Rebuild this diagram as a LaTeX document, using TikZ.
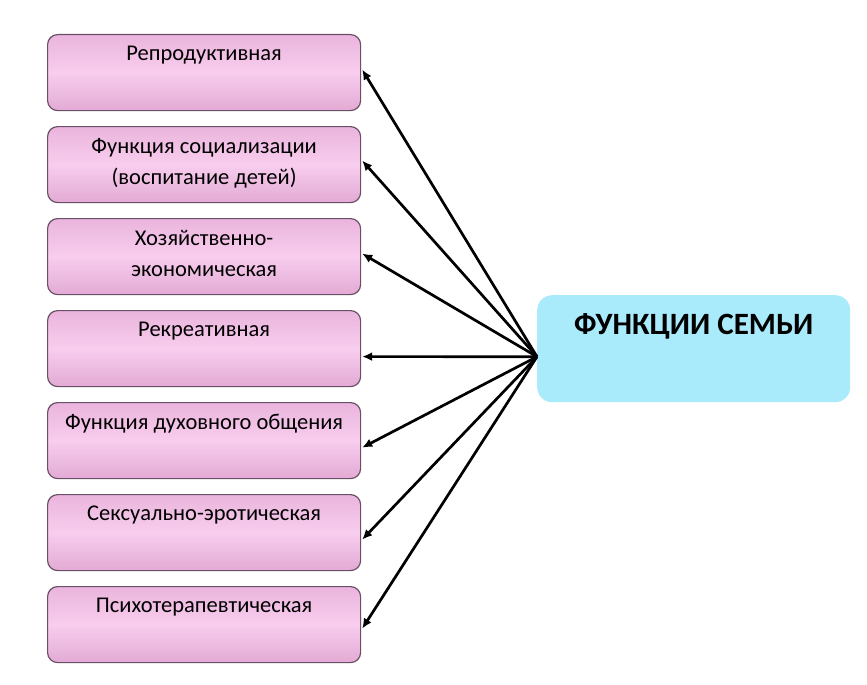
\documentclass[tikz,border=0pt]{standalone}
\usepackage{fontspec}
\setmainfont{Carlito}
\usetikzlibrary{arrows.meta,calc}
\definecolor{pinkTop}{HTML}{EAB4DC}
\definecolor{pinkMid}{HTML}{F8CDEE}
\definecolor{pinkBot}{HTML}{E2AAD4}
\definecolor{boxBorder}{HTML}{6A5066}
\definecolor{famFill}{HTML}{AAEBFB}
\tikzset{
  funcbox/.style={draw=boxBorder, line width=1.2pt, rounded corners=10pt,
    top color=pinkTop, bottom color=pinkBot, middle color=pinkMid,
    minimum width=313pt, minimum height=76pt, inner sep=0pt, anchor=north west},
  functext/.style={anchor=north, align=center, inner sep=0pt, text=black,
    font=\fontsize{22.5}{31}\selectfont},
  famstyle/.style={fill=famFill, rounded corners=15pt, minimum width=313pt,
    minimum height=107pt, inner sep=0pt, anchor=north west},
  famtext/.style={anchor=center, inner sep=0pt, font=\fontsize{31}{34}\selectfont\bfseries},
  conn/.style={line width=2.7pt, -{Latex[length=10pt,width=9pt]}}
}
\begin{document}
\begin{tikzpicture}[x=1pt,y=-1pt]
\useasboundingbox (0,0) rectangle (867,685);
\node[funcbox] (b1) at (47,34) {};
\node[funcbox] (b2) at (47,126) {};
\node[funcbox] (b3) at (47,218) {};
\node[funcbox] (b4) at (47,310) {};
\node[funcbox] (b5) at (47,402) {};
\node[funcbox] (b6) at (47,494) {};
\node[funcbox] (b7) at (47,586) {};
\node[functext] (l1) at ([yshift=-12pt]b1.north) {Репродуктивная};
\node[functext] (l2) at ([yshift=-12pt]b2.north) {Функция социализации\\(воспитание детей)};
\node[functext] (l3) at ([yshift=-12pt]b3.north) {Хозяйственно-\\экономическая};
\node[functext] (l4) at ([yshift=-12pt]b4.north) {Рекреативная};
\node[functext] (l5) at ([yshift=-12pt]b5.north) {Функция духовного общения};
\node[functext] (l6) at ([yshift=-12pt]b6.north) {Сексуально-эротическая};
\node[functext] (l7) at ([yshift=-12pt]b7.north) {Психотерапевтическая};
\node[famstyle] (fam) at (537,295) {};
\node[famtext] (famlabel) at ($(fam.north)+(0,31)$) {ФУНКЦИИ СЕМЬИ};
\coordinate (src) at ([yshift=-8pt]fam.west);
\coordinate (t1) at ([xshift=1pt,yshift=3pt]b1.east);
\coordinate (t2) at ([xshift=1pt,yshift=4pt]b2.east);
\coordinate (t3) at ([xshift=1pt,yshift=3pt]b3.east);
\coordinate (t4) at ([xshift=1pt,yshift=-8pt]b4.east);
\coordinate (t5) at ([xshift=1pt,yshift=-7pt]b5.east);
\coordinate (t6) at ([xshift=1pt,yshift=-7pt]b6.east);
\coordinate (t7) at ([xshift=1pt,yshift=-4pt]b7.east);
\foreach \t in {t1,t2,t3,t4,t5,t6,t7}
  \draw[conn] (src) -- (\t);
\end{tikzpicture}
\end{document}
